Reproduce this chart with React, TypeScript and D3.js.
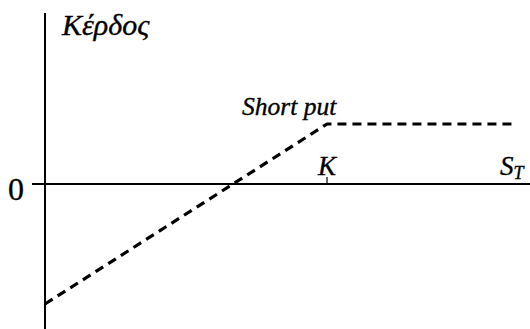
import React from "react";
import * as d3 from "d3";

const stockPrices = [0, 60, 100];
const profits = [-40, 20, 20];
const strikeValue = 60;
const xDomain = [0, 100];
const yDomain = [-48, 57];
const yAxisLabel = "Κέρδος";
const seriesLabel = "Short put";
const zeroLabel = "0";

const W = 530;
const H = 329;

export default function App() {
  const x = d3.scaleLinear().domain(xDomain).range([45, 515]);
  const y = d3.scaleLinear().domain(yDomain).range([328, 13]);
  const pts = stockPrices.map((s, i) => [s, profits[i]] as [number, number]);
  const line = d3
    .line<[number, number]>()
    .x((d) => x(d[0]))
    .y((d) => y(d[1]));
  const serif = "Liberation Serif";
  const ts = { fontFamily: serif, fontStyle: "italic" as const, stroke: "#000", strokeWidth: 0.35 };
  return (
    <div style={{ position: "fixed", left: 0, top: 0, width: W, height: H, background: "#fff" }}>
      <svg width={W} height={H} style={{ display: "block" }}>
        <rect width={W} height={H} fill="#fff" />
        <line x1={32} x2={W} y1={y(0)} y2={y(0)} stroke="#000" strokeWidth={2} />
        <line x1={x(0)} x2={x(0)} y1={y(yDomain[1])} y2={H} stroke="#000" strokeWidth={2} />
        <line x1={x(strikeValue)} x2={x(strikeValue)} y1={y(0) - 7} y2={y(0)} stroke="#000" strokeWidth={1.2} />
        <path d={line(pts) || ""} fill="none" stroke="#000" strokeWidth={3.2} strokeDasharray="9,6" />
        <text x={62} y={35} style={{ ...ts, fontSize: 30 }}>{yAxisLabel}</text>
        <text x={242} y={115} style={{ ...ts, fontSize: 25.5 }}>{seriesLabel}</text>
        <text x={x(strikeValue)} y={175} textAnchor="middle" style={{ ...ts, fontSize: 27 }}>K</text>
        <text x={500} y={175} style={{ ...ts, fontSize: 27 }}>
          S<tspan dy={4} style={{ fontSize: 18 }}>T</tspan>
        </text>
        <text x={8} y={200} style={{ fontFamily: serif, fontSize: 32, stroke: "#000", strokeWidth: 0.3 }}>{zeroLabel}</text>
      </svg>
    </div>
  );
}
